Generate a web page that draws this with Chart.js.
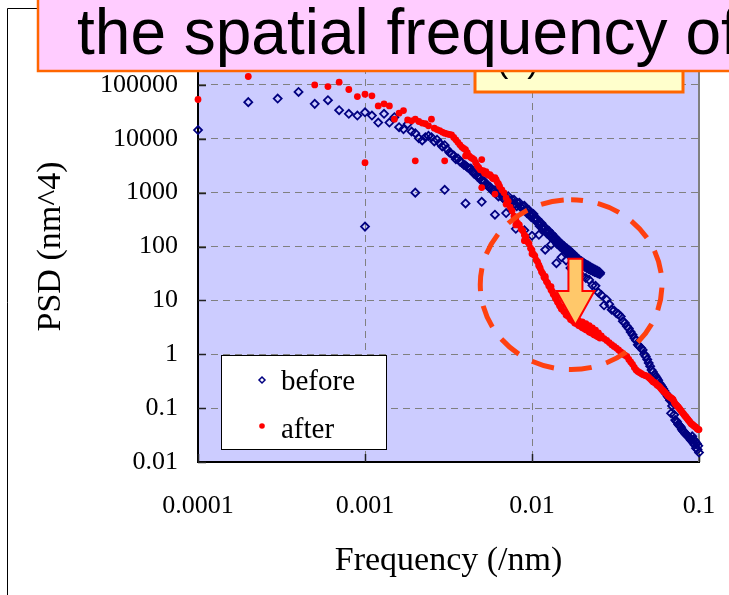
<!DOCTYPE html>
<html>
<head>
<meta charset="utf-8">
<script src="https://cdn.jsdelivr.net/npm/chart.js@4.4.1/dist/chart.umd.min.js"></script>
<style>
  html, body { margin: 0; padding: 0; background: #fff; }
  canvas { display: block; }
</style>
</head>
<body>
<canvas id="psdChart" width="729" height="595"></canvas>
<script>
const seriesNames = ['before', 'after'];

// before, scan 1 (0.0001 /nm steps)
const beforeFreqA = [
  0.0001, 0.0002, 0.0003, 0.0004, 0.0005, 0.0006, 0.0007, 0.0008, 0.0009, 0.0010,
  0.0011, 0.0012, 0.0013, 0.0014, 0.0015, 0.0016, 0.0017, 0.0018, 0.0019, 0.0020,
  0.0021, 0.0022, 0.0023, 0.0024, 0.0025, 0.0026, 0.0027, 0.0028, 0.0029, 0.0030,
  0.0031, 0.0032, 0.0033, 0.0034, 0.0035, 0.0036, 0.0037, 0.0038, 0.0039, 0.0040,
  0.0041, 0.0042, 0.0043, 0.0044, 0.0045, 0.0046, 0.0047, 0.0048, 0.0049, 0.0050,
  0.0051, 0.0052, 0.0053, 0.0054, 0.0055, 0.0056, 0.0057, 0.0058, 0.0059,
  0.0060, 0.0063, 0.0066, 0.0069, 0.0072, 0.0075, 0.0078, 0.0081, 0.0084, 0.0087,
  0.0090, 0.0093, 0.0096, 0.0099, 0.0102, 0.0105, 0.0108, 0.0111, 0.0114, 0.0117,
  0.0120, 0.0123, 0.0126, 0.0129, 0.0132, 0.0135, 0.0138, 0.0141, 0.0144, 0.0147,
  0.0150, 0.0153, 0.0156, 0.0159, 0.0162, 0.0165, 0.0168, 0.0171, 0.0174, 0.0177,
  0.0180, 0.0183, 0.0186, 0.0189, 0.0192, 0.0195, 0.0198, 0.0201, 0.0204, 0.0207,
  0.0210, 0.0213, 0.0216, 0.0219, 0.0222, 0.0225, 0.0228, 0.0231, 0.0234, 0.0237,
  0.0240, 0.0243, 0.0246, 0.0249, 0.0252, 0.0255, 0.0256
];
const beforePsdA = [
  14500, 47800, 55700, 74000, 44400, 52000, 33900, 29000, 26900, 31000,
  26900, 20000, 29000, 20000, 25100, 16400, 15100, 18700, 13600, 12700,
  10200, 9300, 10700, 11300, 10700, 8900, 9600, 8300, 7200, 7600,
  6400, 5550, 5200, 4900, 4170, 4300, 3800, 3600, 3300, 3200,
  2960, 2800, 2800, 2460, 2250, 2200, 2000, 2050, 1850, 1650,
  1610, 1600, 1450, 1350, 1300, 1280, 1180, 1080, 1050,
  1100, 850, 930, 720, 860, 680, 740, 560, 650, 520,
  570, 420, 470, 350, 400, 300, 320, 240, 270, 205,
  225, 175, 195, 152, 168, 132, 146, 112, 127, 100,
  112, 90, 101, 82, 92, 75, 84, 67, 76, 61,
  69, 55, 62, 51, 57, 47, 53, 44.5, 50, 42,
  47, 40, 45, 38, 42.5, 36.5, 40.5, 35, 38.5, 33.8,
  37, 33, 35.5, 31.5, 34, 31, 32.5
];
// before, scan 1, more points of the dense band
const beforeFreqA2 = [
  0.0061, 0.0064, 0.0067, 0.0070, 0.0073, 0.0076, 0.0079, 0.0082, 0.0085, 0.0088,
  0.0091, 0.0094, 0.0097, 0.0100, 0.0103, 0.0106, 0.0109, 0.0112, 0.0115, 0.0118,
  0.0121, 0.0124, 0.0127, 0.0130, 0.0133, 0.0136, 0.0139, 0.0142, 0.0145, 0.0148,
  0.0151, 0.0154, 0.0157, 0.0160, 0.0163, 0.0166, 0.0169, 0.0172, 0.0175, 0.0178,
  0.0181, 0.0184, 0.0187, 0.0190, 0.0193, 0.0196, 0.0199, 0.0202, 0.0205, 0.0208,
  0.0211, 0.0214, 0.0217, 0.0220, 0.0223, 0.0226, 0.0229, 0.0232, 0.0235, 0.0238,
  0.0241, 0.0244, 0.0247, 0.0250, 0.0253
];
const beforePsdA2 = [
  960, 980, 800, 830, 700, 730, 620, 640, 550, 560,
  470, 475, 395, 395, 330, 320, 270, 270, 228, 228,
  192, 195, 166, 168, 143, 145, 124, 126, 108, 110,
  96, 99, 87, 90, 80, 82, 72.5, 74, 65, 67,
  59, 61, 54, 55.5, 50, 52, 47, 48.5, 44, 46,
  42, 43.5, 39.5, 41.5, 37.8, 39.5, 36.2, 38, 34.8, 36.5,
  33.5, 35.3, 32.5, 33.8, 31.5
];

// before, scan 2 (0.001 /nm steps)
const beforeFreqB = [
  0.001, 0.002, 0.003, 0.004, 0.005, 0.006, 0.007, 0.008, 0.009, 0.010,
  0.011, 0.012, 0.013, 0.014, 0.015, 0.016, 0.017, 0.018, 0.019, 0.020,
  0.021, 0.022, 0.023, 0.024, 0.025, 0.026, 0.027, 0.028, 0.029, 0.030,
  0.031, 0.032, 0.033, 0.034, 0.035, 0.036, 0.037, 0.038, 0.039, 0.040,
  0.041, 0.042, 0.043, 0.044, 0.045, 0.046, 0.047, 0.048, 0.049, 0.050,
  0.051, 0.052, 0.053, 0.054, 0.055, 0.056, 0.057, 0.058, 0.059, 0.060,
  0.061, 0.062, 0.063, 0.064, 0.065, 0.066, 0.067, 0.068, 0.069, 0.070,
  0.071, 0.072, 0.073, 0.074, 0.075, 0.076, 0.077, 0.078, 0.079, 0.080,
  0.081, 0.082, 0.083, 0.084, 0.085, 0.086, 0.087, 0.088, 0.089, 0.090,
  0.091, 0.092, 0.093, 0.094, 0.095, 0.096, 0.097, 0.098, 0.099, 0.100
];
const beforePsdB = [
  234, 1000, 1130, 631, 676, 389, 417, 213, 200, 158,
  165, 87, 108, 49, 63, 55, 40, 36, 30, 28,
  26, 24, 19, 18.6, 14, 12.6, 8.1, 10.3, 8.5, 6.7,
  6.5, 5.8, 5.5, 5.0, 4.1, 3.8, 3.3, 3.0, 2.6, 2.3,
  2.0, 1.8, 1.5, 1.4, 1.3, 1.2, 1.0, 0.91, 0.8, 0.69,
  0.6, 0.51, 0.47, 0.42, 0.39, 0.36, 0.33, 0.29, 0.27, 0.25,
  0.23, 0.21, 0.19, 0.18, 0.165, 0.155, 0.14, 0.08, 0.11, 0.125,
  0.075, 0.06, 0.058, 0.055, 0.05, 0.048, 0.046, 0.044, 0.04, 0.038,
  0.037, 0.035, 0.033, 0.032, 0.031, 0.03, 0.029, 0.028, 0.026, 0.025,
  0.03, 0.023, 0.026, 0.021, 0.024, 0.018, 0.022, 0.017, 0.02, 0.015
];

// after, scan 1 (0.0001 /nm steps)
const afterFreqA = [
  0.0001, 0.0002, 0.0005, 0.0006, 0.0007, 0.0008, 0.0009, 0.0010,
  0.0011, 0.0012, 0.0013, 0.0014, 0.0015, 0.0016, 0.0017, 0.0018, 0.0019, 0.0020,
  0.0021, 0.0022, 0.0023, 0.0024, 0.0025, 0.0026, 0.0027, 0.0028, 0.0029, 0.0030,
  0.0031, 0.0032, 0.0033, 0.0034, 0.0035, 0.0036, 0.0037, 0.0038, 0.0039, 0.0040,
  0.0041, 0.0042, 0.0043, 0.0044, 0.0045, 0.0046, 0.0047, 0.0048, 0.0049, 0.0050,
  0.0051, 0.0052, 0.0053, 0.0054, 0.0055, 0.0056, 0.0057, 0.0058, 0.0059, 0.0060,
  0.0061, 0.0062, 0.0063, 0.0064,
  0.0066, 0.0068, 0.0070, 0.0072, 0.0074, 0.0076, 0.0078, 0.0080, 0.0082, 0.0084,
  0.0086, 0.0088, 0.0090, 0.0092, 0.0094, 0.0096, 0.0098, 0.0100, 0.0102, 0.0104,
  0.0106, 0.0108, 0.0110, 0.0112, 0.0114, 0.0116, 0.0118, 0.0120, 0.0122, 0.0124,
  0.0126, 0.0128, 0.0130, 0.0132, 0.0134, 0.0136, 0.0138, 0.0140, 0.0142, 0.0144,
  0.0146, 0.0148, 0.0150,
  0.0155, 0.0160, 0.0165, 0.0170, 0.0175, 0.0180, 0.0185, 0.0190, 0.0195, 0.0200,
  0.0205, 0.0210, 0.0215, 0.0220, 0.0225, 0.0230, 0.0235, 0.0240, 0.0245, 0.0250,
  0.0255
];
const afterPsdA = [
  53500, 143000, 100000, 93000, 112000, 82000, 60600, 67000,
  62500, 40700, 44400, 40700, 23100, 29800, 33400, 22400, 21500, 23100,
  20900, 19500, 19000, 17400, 23100, 15700, 14800, 14200, 13300, 12700,
  12300, 12000, 11800, 10600, 9550, 8600, 7700, 7000, 6600, 6270,
  5500, 4800, 4500, 4300, 4100, 3600, 3150, 2900, 2650, 4100,
  2550, 2300, 2460, 2200, 2100, 2150, 2000, 1850, 1800, 1900,
  1740, 1550, 1450, 1300,
  1120, 990, 800, 690, 540, 460, 365, 325, 272, 252,
  212, 196, 164, 151, 123, 113, 93, 86, 72, 67,
  56, 52, 43.5, 39.5, 34, 31.5, 27, 25.5, 22.3, 21.2,
  18.6, 17.7, 15.6, 14.8, 13.0, 12.4, 11.0, 10.4, 9.3, 8.9,
  8.0, 7.6, 6.9,
  6.2, 5.35, 5.0, 4.4, 4.2, 3.8, 3.7, 3.4, 3.3, 3.1,
  3.0, 2.85, 2.8, 2.6, 2.5, 2.45, 2.3, 2.25, 2.15, 2.1,
  2.0
];

// after, scan 2 (0.001 /nm steps)
const afterFreqB = beforeFreqB.slice();
const afterPsdB = [
  3600, 3900, 3900, 4800, 1240, 940, 610, 251, 128, 73,
  45, 28, 18, 11.5, 7.5, 6.0, 4.9, 4.4, 4.2, 4.0,
  3.7, 3.4, 3.1, 2.8, 2.5, 2.2, 1.95, 1.8, 1.65, 1.5,
  1.4, 1.3, 1.2, 1.1, 1.02, 0.96, 0.91, 0.8, 0.72, 0.65,
  0.57, 0.51, 0.48, 0.46, 0.44, 0.42, 0.41, 0.4, 0.39, 0.37,
  0.35, 0.33, 0.31, 0.3, 0.29, 0.27, 0.26, 0.25, 0.235, 0.22,
  0.21, 0.2, 0.19, 0.18, 0.17, 0.165, 0.16, 0.155, 0.15, 0.144,
  0.13, 0.12, 0.115, 0.11, 0.105, 0.1, 0.095, 0.09, 0.085, 0.081,
  0.077, 0.073, 0.07, 0.067, 0.064, 0.061, 0.058, 0.056, 0.053, 0.051,
  0.05, 0.049, 0.047, 0.046, 0.045, 0.044, 0.042, 0.041, 0.04, 0.04
];

const xTicks = [0.0001, 0.001, 0.01, 0.1];
const xTickLabels = ['0.0001', '0.001', '0.01', '0.1'];
const yTicks = [0.01, 0.1, 1, 10, 100, 1000, 10000, 100000];
const yTickLabels = ['0.01', '0.1', '1', '10', '100', '1000', '10000', '100000'];

const xTitle = 'Frequency (/nm)';
const yTitle = 'PSD (nm^4)';
const bannerText = 'the spatial frequency of';
const panelText = '(a)';

// dashed ring and arrow, in data units
const ringBox = { xMin: 0.0049, xMax: 0.060, yMin: 0.52, yMax: 740 };
const arrowSpec = { x: 0.0182, top: 59, headBase: 15, tip: 3.5 };

const serif = 'Liberation Serif, Times New Roman, serif';
const sans = 'Liberation Sans, Arial, sans-serif';

const toPoints = (fs, ps) => fs.map((f, i) => ({ x: f, y: ps[i] }));
const beforePoints = toPoints(beforeFreqA, beforePsdA)
  .concat(toPoints(beforeFreqA2, beforePsdA2))
  .concat(toPoints(beforeFreqB, beforePsdB));
const afterPoints = toPoints(afterFreqA, afterPsdA).concat(toPoints(afterFreqB, afterPsdB));

const drawDiamond = (ctx, x, y, r) => {
  ctx.beginPath();
  ctx.moveTo(x, y - r); ctx.lineTo(x + r, y); ctx.lineTo(x, y + r); ctx.lineTo(x - r, y);
  ctx.closePath();
};

// no extra room for the end labels
const noLabelPadding = s => {
  s.paddingLeft = 0; s.paddingRight = 0; s.paddingTop = 0; s.paddingBottom = 0;
};

const overlay = {
  id: 'overlay',
  beforeDraw(chart) {
    const { ctx, chartArea: a } = chart;
    ctx.save();
    ctx.fillStyle = '#CCCCFF';
    ctx.fillRect(a.left, a.top, a.right - a.left, a.bottom - a.top);
    ctx.strokeStyle = '#000';
    ctx.lineWidth = 1;
    ctx.beginPath();
    ctx.moveTo(7.5, 600); ctx.lineTo(7.5, 8.5); ctx.lineTo(60, 8.5);
    ctx.stroke();
    ctx.restore();
  },
  beforeDatasetsDraw(chart) {
    const { ctx, chartArea: a, scales: { x, y } } = chart;
    ctx.save();
    ctx.strokeStyle = '#808080';
    ctx.lineWidth = 2;
    ctx.beginPath(); ctx.moveTo(a.right, a.top); ctx.lineTo(a.right, a.bottom); ctx.stroke();
    ctx.strokeStyle = '#222';
    ctx.lineWidth = 1.5;
    ctx.beginPath();
    yTicks.forEach(v => { const py = Math.round(y.getPixelForValue(v)) + 0.5; ctx.moveTo(a.left, py); ctx.lineTo(a.left + 8, py); });
    xTicks.forEach(v => { const px = Math.round(x.getPixelForValue(v)) + 0.5; ctx.moveTo(px, a.bottom); ctx.lineTo(px, a.bottom - 8); });
    ctx.stroke();
    ctx.restore();
  },
  afterDatasetsDraw(chart) {
    const { ctx, scales: { x, y } } = chart;
    ctx.save();

    // dashed ring
    const l = x.getPixelForValue(ringBox.xMin), r = x.getPixelForValue(ringBox.xMax);
    const t = y.getPixelForValue(ringBox.yMax), b = y.getPixelForValue(ringBox.yMin);
    ctx.strokeStyle = '#FF4010';
    ctx.lineWidth = 5;
    ctx.setLineDash([23, 15]);
    ctx.lineDashOffset = 11;
    ctx.beginPath();
    ctx.ellipse((l + r) / 2, (t + b) / 2, (r - l) / 2, (b - t) / 2, 0, -Math.PI / 2, Math.PI * 1.5);
    ctx.stroke();
    ctx.setLineDash([]);

    // arrow
    const ax = x.getPixelForValue(arrowSpec.x);
    const aTop = y.getPixelForValue(arrowSpec.top);
    const aHead = y.getPixelForValue(arrowSpec.headBase);
    const aTip = y.getPixelForValue(arrowSpec.tip);
    ctx.beginPath();
    ctx.moveTo(ax - 7, aTop); ctx.lineTo(ax + 7, aTop); ctx.lineTo(ax + 7, aHead);
    ctx.lineTo(ax + 19, aHead); ctx.lineTo(ax, aTip); ctx.lineTo(ax - 19, aHead);
    ctx.lineTo(ax - 7, aHead); ctx.closePath();
    ctx.fillStyle = '#FFC86A';
    ctx.fill();
    ctx.strokeStyle = '#FF0000';
    ctx.lineWidth = 2;
    ctx.stroke();

    // legend
    ctx.fillStyle = '#fff';
    ctx.fillRect(221, 355, 165, 94);
    ctx.strokeStyle = '#000';
    ctx.lineWidth = 1;
    ctx.strokeRect(221.5, 355.5, 165, 94);
    const ds = chart.data.datasets;
    const beforeDs = ds.find(d => d.label === seriesNames[0]);
    const afterDs = ds.find(d => d.label === seriesNames[1]);
    drawDiamond(ctx, 262, 380, 3);
    ctx.strokeStyle = beforeDs.pointBorderColor;
    ctx.lineWidth = 1.5;
    ctx.stroke();
    ctx.beginPath();
    ctx.arc(262, 426, 2.8, 0, Math.PI * 2);
    ctx.fillStyle = afterDs.pointBackgroundColor;
    ctx.fill();
    ctx.fillStyle = '#000';
    ctx.font = '29px ' + serif;
    ctx.textBaseline = 'alphabetic';
    ctx.textAlign = 'left';
    ctx.fillText(seriesNames[0], 281, 390);
    ctx.fillText(seriesNames[1], 281, 438);

    // yellow panel label box
    ctx.fillStyle = '#FFFFCC';
    ctx.fillRect(475, -10, 208, 102);
    ctx.strokeStyle = '#FF6600';
    ctx.lineWidth = 3;
    ctx.strokeRect(475, -10, 208, 102);
    ctx.fillStyle = '#000';
    ctx.font = '34px ' + sans;
    ctx.fillText(panelText, 497, 72);

    // pink banner
    ctx.fillStyle = '#FFCCFF';
    ctx.fillRect(38, -10, 720, 81);
    ctx.strokeStyle = '#FF6600';
    ctx.lineWidth = 2.5;
    ctx.strokeRect(38, -10, 720, 81);
    ctx.fillStyle = '#000';
    ctx.font = '64px ' + sans;
    ctx.fillText(bannerText, 77, 54);

    ctx.restore();
  }
};

const ctx = document.getElementById('psdChart').getContext('2d');
const psdChart = new Chart(ctx, {
  type: 'scatter',
  data: {
    datasets: [
      {
        label: seriesNames[1],
        data: afterPoints,
        pointStyle: 'circle',
        pointRadius: 3.4,
        pointBackgroundColor: '#FF0000',
        pointBorderColor: '#FF0000',
        pointBorderWidth: 0,
        order: 1,
        clip: false
      },
      {
        label: seriesNames[0],
        data: beforePoints,
        pointStyle: 'rectRot',
        pointRadius: 4,
        pointBackgroundColor: 'rgba(0,0,0,0)',
        pointBorderColor: '#000080',
        pointBorderWidth: 1.8,
        order: 2,
        clip: false
      }
    ]
  },
  options: {
    responsive: false,
    animation: false,
    events: [],
    layout: { padding: { left: 0, right: 30, top: 31, bottom: 0 } },
    plugins: { legend: { display: false }, tooltip: { enabled: false } },
    scales: {
      x: {
        type: 'logarithmic',
        position: 'bottom',
        min: 0.0001,
        max: 0.1,
        afterBuildTicks: s => { s.ticks = xTicks.map(v => ({ value: v })); },
        afterFit: s => { s.height = 133; noLabelPadding(s); },
        ticks: {
          autoSkip: false,
          maxRotation: 0,
          padding: 29,
          color: '#000',
          font: { family: serif, size: 26 },
          callback: (v, i) => xTickLabels[i]
        },
        grid: { color: '#808080', lineWidth: 1, drawTicks: false },
        border: { display: true, color: '#000', width: 2, dash: [7, 5] },
        title: {
          display: true,
          text: xTitle,
          color: '#000',
          font: { family: serif, size: 34 },
          padding: { top: 0, bottom: 14 }
        }
      },
      y: {
        type: 'logarithmic',
        position: 'left',
        min: 0.01,
        max: 1000000,
        afterBuildTicks: s => { s.ticks = yTicks.map(v => ({ value: v })); },
        afterFit: s => { s.width = 198; noLabelPadding(s); },
        ticks: {
          autoSkip: false,
          padding: 20,
          color: '#000',
          font: { family: serif, size: 26 },
          callback: (v, i) => yTickLabels[i]
        },
        grid: { color: '#808080', lineWidth: 1, drawTicks: false },
        border: { display: true, color: '#000', width: 2, dash: [7, 5] },
        title: {
          display: true,
          text: yTitle,
          color: '#000',
          font: { family: serif, size: 34 },
          padding: { top: 31, bottom: 0 }
        }
      }
    }
  },
  plugins: [overlay]
});
</script>
</body>
</html>
